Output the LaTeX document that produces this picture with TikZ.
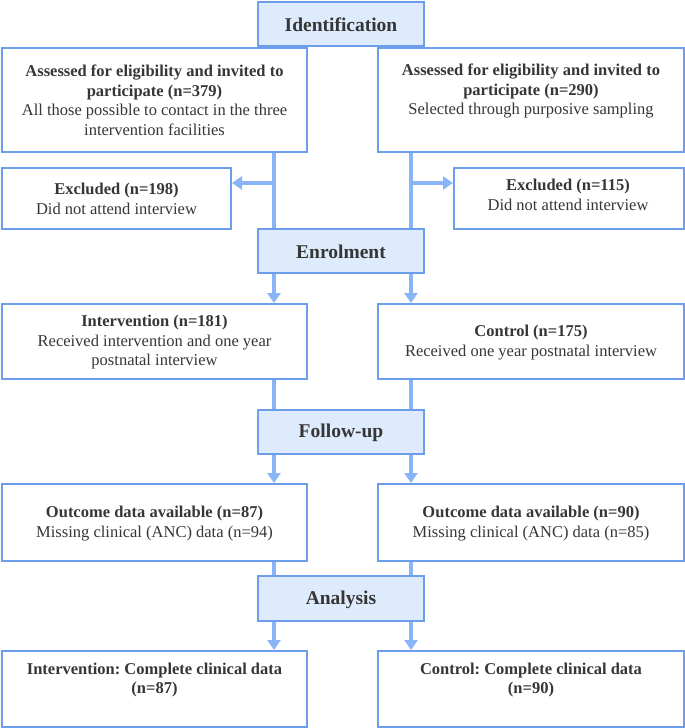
\documentclass[tikz,border=0pt]{standalone}
\usepackage{fontspec}
\setmainfont{Liberation Serif}
\frenchspacing
\usetikzlibrary{arrows.meta}
\definecolor{boxline}{HTML}{6D9EEB}
\definecolor{boxfill}{HTML}{DDEBFC}
\definecolor{connc}{HTML}{8AB4F8}
\definecolor{txtc}{HTML}{363636}
\tikzset{
  box/.style={draw=boxline, line width=2pt, fill=white, inner sep=0pt, rectangle},
  stagebox/.style={box, fill=boxfill, minimum width=166pt},
  txt/.style={text=txtc, align=center, inner sep=0pt, font=\fontsize{16.5}{19.5}\selectfont},
  stagetxt/.style={text=txtc, inner sep=0pt, font=\fontsize{19.5}{22}\selectfont\bfseries},
  conn/.style={draw=connc, line width=4pt},
  arr/.style={conn, -{Triangle[width=13pt,length=10pt]}}
}
\begin{document}
\begin{tikzpicture}[x=1pt,y=-1pt]
\useasboundingbox (0,0) rectangle (685,728);
% boxes
\node[stagebox, minimum height=44pt] (id) at (341,24) {};
\node[box, minimum width=305pt, minimum height=104pt] (tl) at (154.5,100) {};
\node[box, minimum width=306pt, minimum height=104pt] (tr) at (531,100) {};
\node[box, minimum width=229pt, minimum height=61pt] (exl) at (116.5,198.5) {};
\node[box, minimum width=230pt, minimum height=61pt] (exr) at (569,198.5) {};
\node[stagebox, minimum height=44pt] (enr) at (341,251) {};
\node[box, minimum width=305pt, minimum height=75pt] (intv) at (154.5,341.5) {};
\node[box, minimum width=306pt, minimum height=75pt] (ctrl) at (531,341.5) {};
\node[stagebox, minimum height=44pt] (fu) at (341,432) {};
\node[box, minimum width=305pt, minimum height=77pt] (ol) at (154.5,522.5) {};
\node[box, minimum width=306pt, minimum height=77pt] (or) at (531,522.5) {};
\node[stagebox, minimum height=45pt] (an) at (341,598.5) {};
\node[box, minimum width=305pt, minimum height=76pt] (bl) at (154.5,689) {};
\node[box, minimum width=306pt, minimum height=76pt] (br) at (531,689) {};
% texts
\node[stagetxt] (tid) at (341,25) {Identification};
\node[stagetxt] (tenr) at (341,252) {Enrolment};
\node[stagetxt] (tfu) at (341,433) {Follow-up};
\node[stagetxt] (tan) at (341,600) {Analysis};
\node[txt] (ttl) at (154.5,100.5) {\textbf{Assessed for eligibility and invited to}\\\textbf{participate (n=379)}\\All those possible to contact in the three\\intervention facilities};
\node[txt] (ttr) at (531,91) {\textbf{Assessed for eligibility and invited to}\\\textbf{participate (n=290)}\\Selected through purposive sampling};
\node[txt] (texl) at (116.5,199) {\textbf{Excluded (n=198)}\\Did not attend interview};
\node[txt] (texr) at (568,195) {\textbf{Excluded (n=115)}\\Did not attend interview};
\node[txt] (tintv) at (154.5,342.5) {\textbf{Intervention (n=181)}\\Received intervention and one year\\postnatal interview};
\node[txt] (tctrl) at (531,342.5) {\textbf{Control (n=175)}\\Received one year postnatal interview};
\node[txt] (tol) at (154.5,523.5) {\textbf{Outcome data available (n=87)}\\Missing clinical (ANC) data (n=94)};
\node[txt] (tor) at (531,523.5) {\textbf{Outcome data available (n=90)}\\Missing clinical (ANC) data (n=85)};
\node[txt] (tbl) at (154.5,680) {\textbf{Intervention: Complete clinical data}\\\textbf{(n=87)}};
\node[txt] (tbr) at (531,680) {\textbf{Control: Complete clinical data}\\\textbf{(n=90)}};
% connector guides
\coordinate (xL) at (274,0);
\coordinate (xR) at (411,0);
\coordinate (ya) at (0,183);
% connectors
\draw[conn] (tl.south -| xL) -- (enr.north -| xL);
\draw[conn] (tr.south -| xR) -- (enr.north -| xR);
\draw[arr] (xL |- ya) -- (exl.east |- ya);
\draw[arr] (xR |- ya) -- (exr.west |- ya);
\draw[arr] (enr.south -| xL) -- (intv.north -| xL);
\draw[arr] (enr.south -| xR) -- (ctrl.north -| xR);
\draw[conn] (intv.south -| xL) -- (fu.north -| xL);
\draw[conn] (ctrl.south -| xR) -- (fu.north -| xR);
\draw[arr] (fu.south -| xL) -- (ol.north -| xL);
\draw[arr] (fu.south -| xR) -- (or.north -| xR);
\draw[conn] (ol.south -| xL) -- (an.north -| xL);
\draw[conn] (or.south -| xR) -- (an.north -| xR);
\draw[arr] (an.south -| xL) -- (bl.north -| xL);
\draw[arr] (an.south -| xR) -- (br.north -| xR);
\end{tikzpicture}
\end{document}
